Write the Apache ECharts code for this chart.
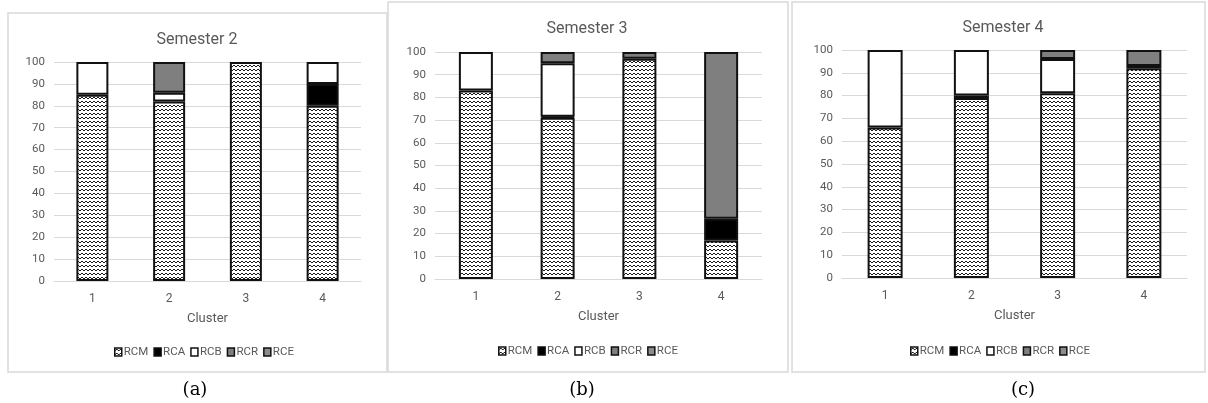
<!DOCTYPE html>
<html>
<head>
<meta charset="utf-8">
<script src="https://cdn.jsdelivr.net/npm/echarts@6/dist/echarts.min.js"></script>
<style>
  html, body { margin: 0; padding: 0; background: #ffffff; }
  #chart { width: 1208px; height: 403px; }
</style>
</head>
<body>
<div id="chart"></div>
<script>
// Categories and labels
const clusters = ['1', '2', '3', '4'];
const seriesNames = ['RCM', 'RCA', 'RCB', 'RCR', 'RCE'];
const panelTitles = ['Semester 2', 'Semester 3', 'Semester 4'];
const captions = ['(a)', '(b)', '(c)'];
const yTicks = [0, 100, 10]; // min, max, interval

// Semester 2 shares (%) per cluster
const sem2RCM = [85, 82, 100, 80];
const sem2RCA = [0, 0, 0, 10];
const sem2RCB = [15, 4, 0, 10];
const sem2RCR = [0, 14, 0, 0];
const sem2RCE = [0, 0, 0, 0];

// Semester 3 shares (%) per cluster
const sem3RCM = [83, 71, 97, 17];
const sem3RCA = [0, 0.5, 0, 9.5];
const sem3RCB = [17, 23.5, 0, 0];
const sem3RCR = [0, 5, 3, 73.5];
const sem3RCE = [0, 0, 0, 0];

// Semester 4 shares (%) per cluster
const sem4RCM = [66, 79, 81, 92];
const sem4RCA = [0, 1, 0, 1];
const sem4RCB = [34, 20, 15, 0];
const sem4RCR = [0, 0, 4, 7];
const sem4RCE = [0, 0, 0, 0];

const semesters = [
  [sem2RCM, sem2RCA, sem2RCB, sem2RCR, sem2RCE],
  [sem3RCM, sem3RCA, sem3RCB, sem3RCR, sem3RCE],
  [sem4RCM, sem4RCA, sem4RCB, sem4RCR, sem4RCE]
];

// Zigzag hatch used for the RCM segments
function zigzagPattern() {
  const c = document.createElement('canvas');
  c.width = 4; c.height = 4;
  const g = c.getContext('2d');
  g.fillStyle = '#ffffff';
  g.fillRect(0, 0, 4, 4);
  g.strokeStyle = '#1a1a1a';
  g.lineWidth = 1;
  g.beginPath();
  g.moveTo(0, 3); g.lineTo(2, 1); g.lineTo(4, 3);
  g.stroke();
  return c;
}
const rcmFill = { image: zigzagPattern(), repeat: 'repeat' };
const fills = [rcmFill, '#000000', '#ffffff', '#7f7f7f', '#8c8c8c'];

const FONT = "Roboto, 'Open Sans', sans-serif";
const TEXT_GREY = '#595959';
const GRID_GREY = '#d9d9d9';

// Panel geometry
const panels = [
  { box: [8, 13, 379, 359], grid: [54, 62, 307, 219], bar: 32, title: [197, 40], legend: [114, 346], caption: [195, 390] },
  { box: [388, 2, 400, 370], grid: [435, 52, 327, 227], bar: 34, title: [587, 29], legend: [498, 345], caption: [582, 390] },
  { box: [792, 2, 413, 370], grid: [842, 50, 345, 228], bar: 35, title: [1003, 28], legend: [910, 345], caption: [1023, 390] }
];

const grid = [], xAxis = [], yAxis = [], series = [], legend = [], graphic = [];

panels.forEach((p, i) => {
  grid.push({ left: p.grid[0], top: p.grid[1], width: p.grid[2], height: p.grid[3], containLabel: false });
  xAxis.push({
    type: 'category', gridIndex: i, data: clusters,
    name: 'Cluster', nameLocation: 'middle', nameGap: 31,
    nameTextStyle: { color: TEXT_GREY, fontFamily: FONT, fontSize: 13 },
    axisLine: { lineStyle: { color: GRID_GREY, width: 1 } },
    axisTick: { show: false },
    axisLabel: { color: TEXT_GREY, fontFamily: FONT, fontSize: 12, margin: 12 }
  });
  yAxis.push({
    type: 'value', gridIndex: i, min: yTicks[0], max: yTicks[1], interval: yTicks[2],
    axisLine: { show: false }, axisTick: { show: false },
    splitLine: { lineStyle: { color: GRID_GREY, width: 1 } },
    axisLabel: { color: TEXT_GREY, fontFamily: FONT, fontSize: 11.5, margin: 9 }
  });
  seriesNames.forEach((name, k) => {
    series.push({
      name: name, type: 'bar', stack: 'sem' + i,
      xAxisIndex: i, yAxisIndex: i, barWidth: p.bar,
      data: semesters[i][k].map(v => (v === 0 ? '-' : v)),
      itemStyle: { color: fills[k], borderColor: '#111111', borderWidth: 2 },
      emphasis: { disabled: true }
    });
  });
  legend.push({
    data: seriesNames, left: p.legend[0], top: p.legend[1], padding: 0,
    icon: 'rect', itemWidth: 7, itemHeight: 8, itemGap: 5,
    selectedMode: false,
    itemStyle: { borderWidth: 1.5 },
    textStyle: { color: TEXT_GREY, fontFamily: FONT, fontSize: 11.5, padding: [0, 0, 0, -3] }
  });
  graphic.push({
    type: 'rect', silent: true,
    shape: { x: p.box[0], y: p.box[1], width: p.box[2], height: p.box[3] },
    style: { fill: null, stroke: GRID_GREY, lineWidth: 1.5 }
  });
  graphic.push({
    type: 'text', silent: true, x: p.title[0], y: p.title[1],
    style: { text: panelTitles[i], fill: TEXT_GREY, font: '16px ' + FONT, textAlign: 'center', textVerticalAlign: 'middle' }
  });
  graphic.push({
    type: 'text', silent: true, x: p.caption[0], y: p.caption[1],
    style: { text: captions[i], fill: '#000000', font: '18px "DejaVu Serif", serif', textAlign: 'center', textVerticalAlign: 'middle' }
  });
});

const chart = echarts.init(document.getElementById('chart'), null, { renderer: 'canvas' });
chart.setOption({
  animation: false,
  backgroundColor: '#ffffff',
  grid, xAxis, yAxis, series, legend, graphic
});
</script>
</body>
</html>
